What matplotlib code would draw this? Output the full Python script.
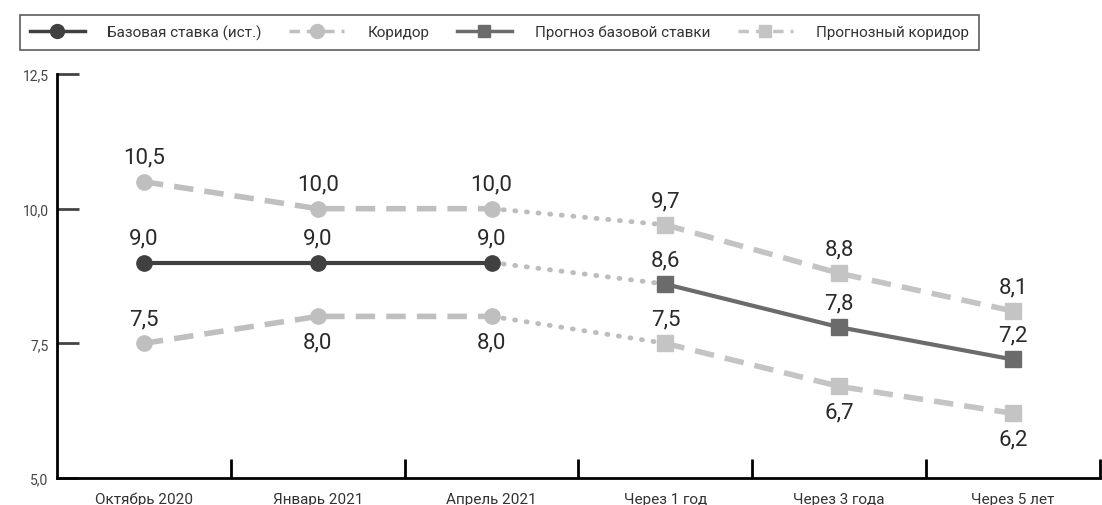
import numpy as np
import matplotlib
matplotlib.use("Agg")
import matplotlib.pyplot as plt
from matplotlib.lines import Line2D

plt.rcParams['font.family'] = ['Roboto', 'DejaVu Sans']

categories = ["Октябрь 2020", "Январь 2021", "Апрель 2021",
              "Через 1 год", "Через 3 года", "Через 5 лет"]
base_hist = [9.0, 9.0, 9.0]
corr_up = [10.5, 10.0, 10.0]
corr_low = [7.5, 8.0, 8.0]
base_fc = [8.6, 7.8, 7.2]
fc_up = [9.7, 8.8, 8.1]
fc_low = [7.5, 6.7, 6.2]

C_BASE = "#404040"
C_CORR = "#bfbfbf"
C_FC = "#6b6b6b"
C_FCC = "#c4c4c4"
C_DOT = "#bdbdbd"

fig = plt.figure(figsize=(11.02, 5.06), dpi=100)
ax = fig.add_axes([57 / 1102, 1 - 479 / 506, (1100 - 57) / 1102, (479 - 75) / 506])

xh = np.arange(3)
xf = np.arange(3, 6)

# dotted links between history and forecast
for a, b in [(corr_up[-1], fc_up[0]), (base_hist[-1], base_fc[0]), (corr_low[-1], fc_low[0])]:
    ax.plot([2, 3], [a, b], color=C_DOT, lw=3.5, ls=(0, (0.2, 2.2)), dash_capstyle="round", zorder=1)

ax.plot(xh, corr_up, color=C_CORR, lw=4, ls=(0, (3.5, 2)), marker="o", ms=11, zorder=2)
ax.plot(xh, corr_low, color=C_CORR, lw=4, ls=(0, (3.5, 2)), marker="o", ms=11, zorder=2)
ax.plot(xh, base_hist, color=C_BASE, lw=3, marker="o", ms=11, zorder=3)
ax.plot(xf, fc_up, color=C_FCC, lw=4, ls=(0, (3.5, 2)), marker="s", ms=12, zorder=2)
ax.plot(xf, fc_low, color=C_FCC, lw=4, ls=(0, (3.5, 2)), marker="s", ms=12, zorder=2)
ax.plot(xf, base_fc, color=C_FC, lw=3, marker="s", ms=12, zorder=3)

lab_kw = dict(fontsize=16, color="#2a2a2a", ha="center")
def label(xs, ys, above):
    for x, y, up in zip(xs, ys, above):
        off = 10 if up else -11
        ax.annotate(f"{y:.1f}".replace(".", ","), (x, y), xytext=(0, off),
                    textcoords="offset points", va="bottom" if up else "top", **lab_kw)

label(xh, corr_up, [True] * 3)
label(xh, base_hist, [True] * 3)
label(xh, corr_low, [True, False, False])
label(xf, fc_up, [True] * 3)
label(xf, base_fc, [True] * 3)
label(xf, fc_low, [True, False, False])

ax.set_xlim(-0.5, 5.5)
ax.set_ylim(5, 12.5)
ax.set_yticks([5, 7.5, 10, 12.5])
ax.set_yticklabels(["5,0", "7,5", "10,0", "12,5"])
ax.set_xticks(np.arange(6))
ax.set_xticklabels(categories)
ax.set_xticks(np.arange(0.5, 6, 1), minor=True)
ax.tick_params(axis="x", which="major", length=0, pad=10, labelsize=11, colors="#333333")
ax.tick_params(axis="x", which="minor", direction="in", length=14, width=2, color="black")
ax.tick_params(axis="y", direction="in", length=16, width=2, pad=6, labelsize=10, colors="#444444")
for s in ["top", "right"]:
    ax.spines[s].set_visible(False)
for s in ["left", "bottom"]:
    ax.spines[s].set_linewidth(2)

handles = [
    Line2D([], [], color=C_BASE, lw=2.5, marker="o", ms=10),
    Line2D([], [], color=C_CORR, lw=2.5, ls=(0, (3, 2)), marker="o", ms=10),
    Line2D([], [], color=C_FC, lw=2.5, marker="s", ms=9),
    Line2D([], [], color=C_FCC, lw=2.5, ls=(0, (3, 2)), marker="s", ms=9),
]
names = ["Базовая ставка (ист.)", "Коридор", "Прогноз базовой ставки", "Прогнозный коридор"]
leg = fig.legend(handles, names, loc="upper left", bbox_to_anchor=(12 / 1102, 1 - 8 / 506),
                 ncol=4, frameon=True, fancybox=False, edgecolor="#333333",
                 prop={"size": 11},
                 handlelength=3.6, columnspacing=1.8, borderpad=0.65, handletextpad=1.5)
leg.get_frame().set_linewidth(1.2)
for t in leg.get_texts():
    t.set_color("#333333")

fig.savefig("out.png", dpi=100)
